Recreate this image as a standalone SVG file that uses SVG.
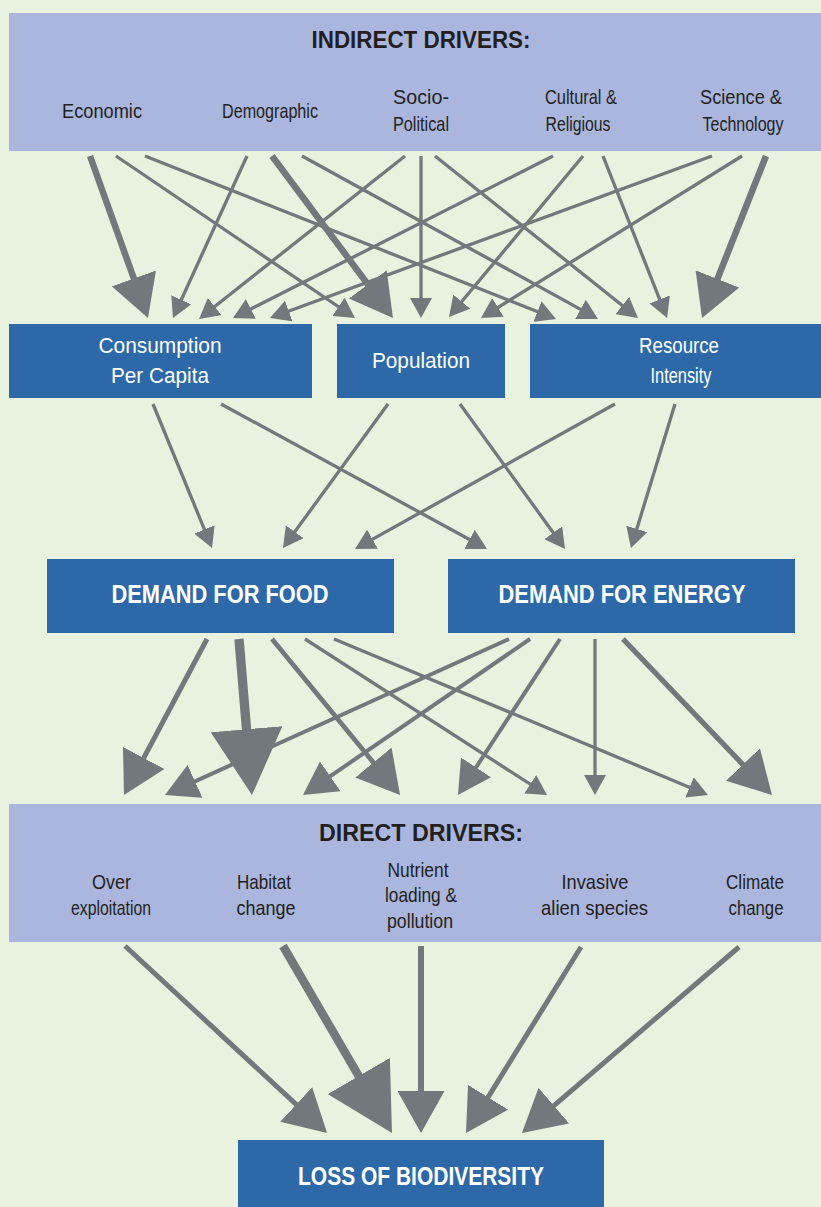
<svg xmlns="http://www.w3.org/2000/svg" width="821" height="1207" viewBox="0 0 821 1207">
  <defs>
    <style>
      .bg { fill: #e9f2df; }
      .band { fill: #aab6de; }
      .box { fill: #2d69a8; }
      .t { font-family: "Liberation Sans", Arial, sans-serif; text-anchor: middle; }
      .dark { fill: #231f20; font-size: 21px; }
      .head { fill: #231f20; font-size: 24px; font-weight: bold; }
      .wl { fill: #ffffff; font-size: 22px; }
      .wb { fill: #ffffff; font-size: 25px; font-weight: bold; }
      .c { fill: none; stroke: #72787c; stroke-linecap: butt; }
      .s { stroke-width: 3.3; marker-end: url(#ah-s); }
      .m { stroke-width: 4; marker-end: url(#ah-m); }
      .l { marker-end: url(#ah-l); }
      .h { marker-end: url(#ah-h); }
    </style>
    <!-- arrowheads in four sizes; line ends sit inside the triangle -->
    <marker id="ah-s" markerUnits="userSpaceOnUse" viewBox="0 0 20 22" markerWidth="20" markerHeight="22" refX="12" refY="11" orient="auto">
      <path d="M0,0 L20,11 L0,22 z" fill="#72787c"/>
    </marker>
    <marker id="ah-m" markerUnits="userSpaceOnUse" viewBox="0 0 33 36" markerWidth="33" markerHeight="36" refX="20" refY="18" orient="auto">
      <path d="M0,0 L33,18 L0,36 z" fill="#72787c"/>
    </marker>
    <marker id="ah-l" markerUnits="userSpaceOnUse" viewBox="0 0 42 47" markerWidth="42" markerHeight="47" refX="26" refY="23.5" orient="auto">
      <path d="M0,0 L42,23.5 L0,47 z" fill="#72787c"/>
    </marker>
    <marker id="ah-h" markerUnits="userSpaceOnUse" viewBox="0 0 66 72" markerWidth="66" markerHeight="72" refX="42" refY="36" orient="auto">
      <path d="M0,0 L66,36 L0,72 z" fill="#72787c"/>
    </marker>
  </defs>

  <rect class="bg" x="0" y="0" width="821" height="1207"/>

  <!-- indirect drivers band -->
  <g id="indirect-drivers">
    <rect class="band" x="9" y="13" width="812" height="138"/>
    <text class="t head" x="421" y="48" textLength="219" lengthAdjust="spacingAndGlyphs">INDIRECT DRIVERS:</text>
    <g id="economic"><text class="t dark" x="102" y="118" textLength="80" lengthAdjust="spacingAndGlyphs">Economic</text></g>
    <g id="demographic"><text class="t dark" x="270" y="118" textLength="96" lengthAdjust="spacingAndGlyphs">Demographic</text></g>
    <g id="socio-political">
      <text class="t dark" x="421" y="104" textLength="56" lengthAdjust="spacingAndGlyphs">Socio-</text>
      <text class="t dark" x="421" y="130.5" textLength="56" lengthAdjust="spacingAndGlyphs">Political</text>
    </g>
    <g id="cultural-religious">
      <text class="t dark" x="581" y="104" textLength="72" lengthAdjust="spacingAndGlyphs">Cultural &amp;</text>
      <text class="t dark" x="578" y="130.5" textLength="65" lengthAdjust="spacingAndGlyphs">Religious</text>
    </g>
    <g id="science-technology">
      <text class="t dark" x="741" y="104" textLength="82" lengthAdjust="spacingAndGlyphs">Science &amp;</text>
      <text class="t dark" x="743" y="130.5" textLength="81" lengthAdjust="spacingAndGlyphs">Technology</text>
    </g>
  </g>

  <!-- intermediate factors -->
  <g id="consumption">
    <rect class="box" x="9" y="324" width="303" height="74"/>
    <text class="t wl" x="160" y="353" textLength="123" lengthAdjust="spacingAndGlyphs">Consumption</text>
    <text class="t wl" x="160" y="383" textLength="98" lengthAdjust="spacingAndGlyphs">Per Capita</text>
  </g>
  <g id="population">
    <rect class="box" x="337" y="324" width="168" height="74"/>
    <text class="t wl" x="421" y="368" textLength="98" lengthAdjust="spacingAndGlyphs">Population</text>
  </g>
  <g id="resource-intensity">
    <rect class="box" x="530" y="324" width="291" height="74"/>
    <text class="t wl" x="679" y="353" textLength="80" lengthAdjust="spacingAndGlyphs">Resource</text>
    <text class="t wl" x="681" y="383" textLength="61" lengthAdjust="spacingAndGlyphs">Intensity</text>
  </g>

  <!-- demand -->
  <g id="demand-food">
    <rect class="box" x="47" y="559" width="347" height="74"/>
    <text class="t wb" x="220" y="603" textLength="217" lengthAdjust="spacingAndGlyphs">DEMAND FOR FOOD</text>
  </g>
  <g id="demand-energy">
    <rect class="box" x="448" y="559" width="347" height="74"/>
    <text class="t wb" x="622" y="603" textLength="247" lengthAdjust="spacingAndGlyphs">DEMAND FOR ENERGY</text>
  </g>

  <!-- direct drivers band -->
  <g id="direct-drivers">
    <rect class="band" x="9" y="804" width="812" height="138"/>
    <text class="t head" x="421" y="841" textLength="204" lengthAdjust="spacingAndGlyphs">DIRECT DRIVERS:</text>
    <g id="over-exploitation">
      <text class="t dark" x="111.5" y="889" textLength="39" lengthAdjust="spacingAndGlyphs">Over</text>
      <text class="t dark" x="111" y="914.5" textLength="80" lengthAdjust="spacingAndGlyphs">exploitation</text>
    </g>
    <g id="habitat-change">
      <text class="t dark" x="264" y="889" textLength="54" lengthAdjust="spacingAndGlyphs">Habitat</text>
      <text class="t dark" x="266" y="914.5" textLength="59" lengthAdjust="spacingAndGlyphs">change</text>
    </g>
    <g id="nutrient-loading">
      <text class="t dark" x="418" y="876.5" textLength="61" lengthAdjust="spacingAndGlyphs">Nutrient</text>
      <text class="t dark" x="421" y="902" textLength="72" lengthAdjust="spacingAndGlyphs">loading &amp;</text>
      <text class="t dark" x="420" y="927.5" textLength="66" lengthAdjust="spacingAndGlyphs">pollution</text>
    </g>
    <g id="invasive-species">
      <text class="t dark" x="595" y="889" textLength="67" lengthAdjust="spacingAndGlyphs">Invasive</text>
      <text class="t dark" x="594.5" y="914.5" textLength="107" lengthAdjust="spacingAndGlyphs">alien species</text>
    </g>
    <g id="climate-change">
      <text class="t dark" x="755" y="889" textLength="58" lengthAdjust="spacingAndGlyphs">Climate</text>
      <text class="t dark" x="756" y="914.5" textLength="55" lengthAdjust="spacingAndGlyphs">change</text>
    </g>
  </g>

  <!-- outcome -->
  <g id="loss-of-biodiversity">
    <rect class="box" x="238" y="1140" width="366" height="67"/>
    <text class="t wb" x="421" y="1185" textLength="246" lengthAdjust="spacingAndGlyphs">LOSS OF BIODIVERSITY</text>
  </g>

  <!-- connectors -->
  <g id="connectors">
    <!-- indirect drivers to intermediate factors -->
    <line class="c l" stroke-width="6.5" x1="90" y1="156" x2="142.6" y2="302.9"/>
    <line class="c s" x1="116" y1="156" x2="348.4" y2="313.5"/>
    <line class="c s" x1="145" y1="156" x2="548.6" y2="316"/>
    <line class="c s" x1="247" y1="156" x2="176.3" y2="310.7"/>
    <line class="c l" stroke-width="6.5" x1="272" y1="156" x2="383.4" y2="305.2"/>
    <line class="c s" x1="302" y1="156" x2="591" y2="315.1"/>
    <line class="c s" x1="405" y1="156" x2="205.3" y2="314"/>
    <line class="c s" x1="421" y1="156" x2="421" y2="310"/>
    <line class="c s" x1="435" y1="156" x2="631.7" y2="313"/>
    <line class="c s" x1="553" y1="156" x2="240.1" y2="314.4"/>
    <line class="c s" x1="583" y1="156" x2="454.1" y2="310.8"/>
    <line class="c s" x1="603" y1="156" x2="664.1" y2="310.6"/>
    <line class="c s" x1="712" y1="156" x2="277.5" y2="315.2"/>
    <line class="c s" x1="742" y1="156" x2="487.8" y2="313.8"/>
    <line class="c l" stroke-width="6.5" x1="766" y1="156" x2="707.9" y2="303.1"/>

    <!-- intermediate factors to demand -->
    <line class="c s" x1="153" y1="404" x2="209" y2="540.6"/>
    <line class="c s" x1="221" y1="404" x2="480" y2="545.2"/>
    <line class="c s" x1="388" y1="404" x2="287.7" y2="541.5"/>
    <line class="c s" x1="460" y1="404" x2="560.3" y2="542.5"/>
    <line class="c s" x1="615" y1="404" x2="362" y2="545.1"/>
    <line class="c s" x1="675" y1="404" x2="633.3" y2="540.4"/>

    <!-- demand to direct drivers -->
    <line class="c l" stroke-width="5" x1="207" y1="639" x2="131.5" y2="780.9"/>
    <line class="c h" stroke-width="9.3" x1="239" y1="639" x2="250" y2="771.1"/>
    <line class="c l" stroke-width="4.7" x1="272" y1="639" x2="389.9" y2="782.6"/>
    <line class="c s" x1="305" y1="639" x2="540.3" y2="790.7"/>
    <line class="c s" x1="334" y1="639" x2="700.6" y2="791.9"/>
    <line class="c m" x1="509" y1="639" x2="176.8" y2="789.6"/>
    <line class="c m" x1="530" y1="639" x2="313.7" y2="787.6"/>
    <line class="c m" x1="560" y1="639" x2="465.1" y2="784.1"/>
    <line class="c s" x1="595" y1="639" x2="595" y2="787"/>
    <line class="c l" stroke-width="5.3" x1="623" y1="639" x2="760.9" y2="783.4"/>

    <!-- direct drivers to loss of biodiversity -->
    <line class="c l" stroke-width="5" x1="125" y1="946" x2="315.3" y2="1122.1"/>
    <line class="c h" stroke-width="8.5" x1="283" y1="946" x2="379.9" y2="1112.3"/>
    <line class="c l" stroke-width="6" x1="421" y1="946" x2="421" y2="1117"/>
    <line class="c l" stroke-width="5" x1="581" y1="947" x2="474.4" y2="1119.4"/>
    <line class="c l" stroke-width="5" x1="739" y1="947" x2="534.1" y2="1122.6"/>
  </g>
</svg>
